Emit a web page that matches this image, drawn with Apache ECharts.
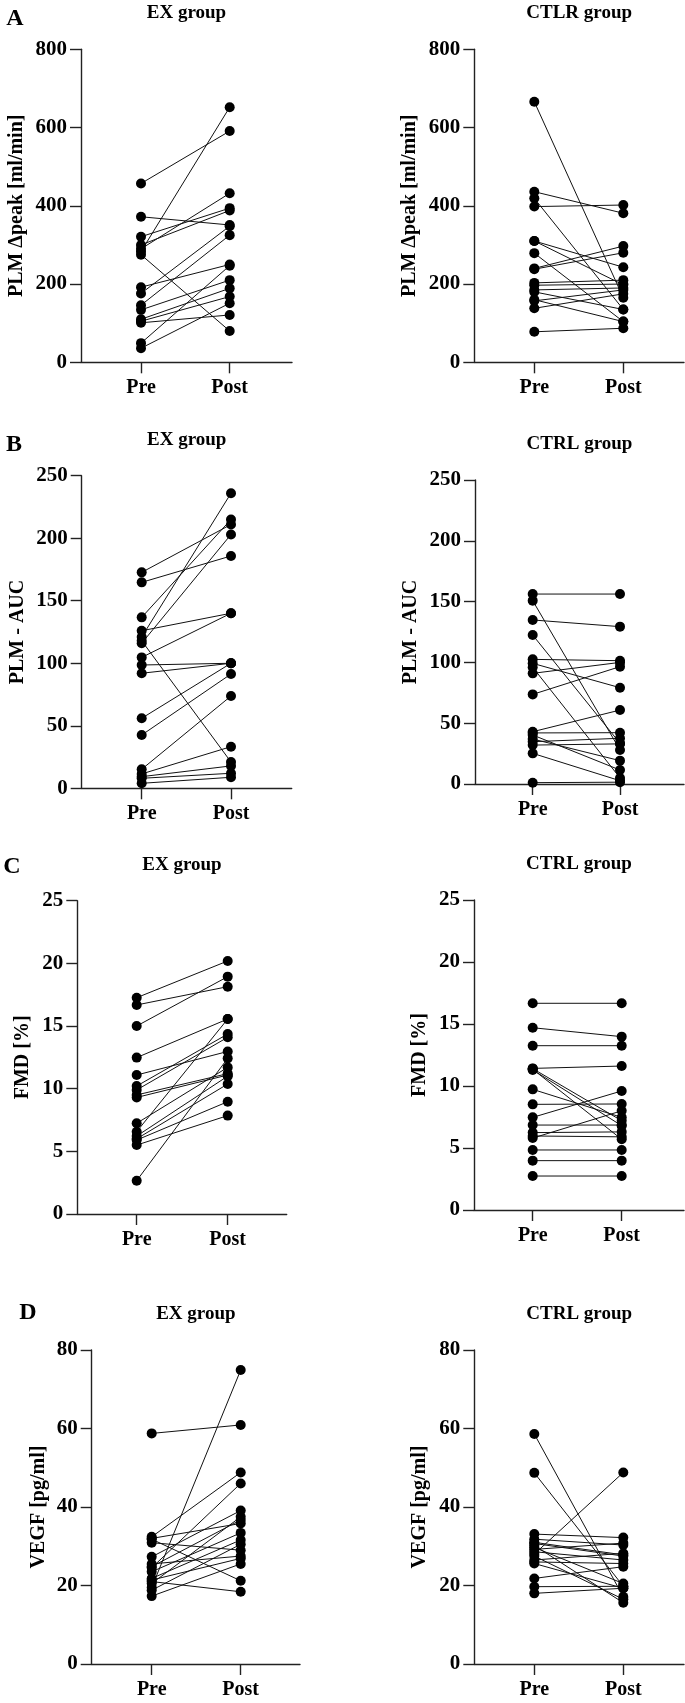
<!DOCTYPE html>
<html><head><meta charset="utf-8">
<script src="https://cdn.jsdelivr.net/npm/echarts@6/dist/echarts.min.js"></script>
<style>html,body{margin:0;padding:0;background:#fff}#c{width:685px;height:1703px}</style>
</head><body><div id="c"></div>
<script>
// ---- data ----
const timepoints = ['Pre', 'Post'];

const peakExPre   = [457, 372, 321, 300, 290, 283, 275, 192, 176, 146, 134, 110, 101, 105, 49, 36];
const peakExPost  = [591, 351, 394, 388, 432, 652, 80, 250, 348, 325, 210, 189, 121, 168, 247, 151];
const peakCtrlPre  = [666, 436, 419, 398, 310, 310, 279, 240, 238, 203, 197, 185, 180, 157, 138, 160, 78];
const peakCtrlPost = [165, 381, 135, 402, 243, 198, 104, 297, 280, 210, 200, 190, 135, 185, 175, 104, 87];

const aucExPre   = [172.7, 164.7, 136.7, 126, 121, 118, 116, 104.7, 98.6, 92, 56, 42.6, 15.2, 11.5, 9.3, 8, 4];
const aucExPost  = [211, 185.8, 215, 140, 236, 21, 203, 140, 100, 100, 100, 91.4, 73.8, 33.3, 17.9, 12, 8.8];
const aucCtrlPre  = [156.2, 150.8, 134.9, 122.5, 102.5, 99.2, 96, 91, 73.7, 43, 42, 40.3, 37, 34.8, 32, 25.2, 1.1];
const aucCtrlPost = [156.2, 28, 129.4, 33.4, 101.4, 79.2, 5, 100, 96.5, 60.8, 42.2, 11.5, 19.2, 37.6, 33, 2.7, 1.5];

const fmdExPre   = [17.26, 16.68, 15.0, 12.48, 11.09, 10.21, 9.9, 9.5, 9.3, 7.24, 6.57, 6.22, 6.0, 5.9, 5.5, 2.66];
const fmdExPost  = [20.19, 18.14, 18.94, 15.56, 12.97, 14.36, 14.1, 11.2, 11.09, 11.7, 15.56, 11.0, 10.37, 8.96, 7.85, 12.42];
const fmdCtrlPre  = [16.67, 14.7, 13.25, 11.42, 11.4, 11.35, 11.3, 9.73, 8.52, 7.47, 6.85, 6.24, 5.97, 5.8, 4.84, 3.98, 2.74];
const fmdCtrlPost = [16.67, 13.98, 13.25, 11.61, 7.2, 5.7, 6.8, 7.47, 8.55, 9.6, 6.85, 6.3, 5.9, 8.0, 4.84, 3.98, 2.74];

const vegfExPre   = [58.75, 19.5, 32.4, 24.5, 32, 31.8, 30.9, 27.3, 24.8, 23.5, 21.8, 20.5, 21, 21.4, 17.3, 18.8, 25.5];
const vegfExPost  = [60.9, 74.9, 48.8, 46.0, 35.8, 21.2, 29.0, 39.1, 36.7, 33.4, 31.6, 37.5, 18.4, 26.9, 25.5, 30.5, 27.5];
const vegfCtrlPre  = [58.6, 48.7, 28.0, 33.1, 31.8, 30.7, 29.7, 28.6, 27.5, 26.5, 25.6, 21.8, 19.7, 18.0, 30.2, 29.2, 26.0, 31];
const vegfCtrlPost = [17.1, 19.8, 48.8, 32.2, 30.3, 27.5, 20.5, 26.5, 16.5, 28.2, 19.3, 24.8, 19.8, 19.3, 15.6, 30.8, 25.6, 27.8];

const yNames = ['PLM \u0394peak [ml/min]', 'PLM - AUC', 'FMD [%]', 'VEGF [pg/ml]'];
const yMaxes = [800, 250, 25, 80];
const yIntervals = [200, 50, 5, 20];
const panelLetters = ['A', 'B', 'C', 'D'];
const leftTitles = ['EX group', 'EX group', 'EX group', 'EX group'];
const rightTitles = ['CTLR group', 'CTRL group', 'CTRL group', 'CTRL group'];

// ---- layout (pixels): axisX, preX, postX, endX, top, bottom ----
const FONT = '"Liberation Serif", "Times New Roman", serif';
const panels = [
  {row:0, pre:peakExPre, post:peakExPost, title:leftTitles[0], box:[81,141,229.7,292,49.3,362.3], gap:54},
  {row:0, pre:peakCtrlPre, post:peakCtrlPost, title:rightTitles[0], box:[474.3,534.3,623.3,684,49.3,362.3], gap:54},
  {row:1, pre:aucExPre, post:aucExPost, title:leftTitles[1], box:[81.7,141.7,231,291.7,475.7,788.3], gap:54},
  {row:1, pre:aucCtrlPre, post:aucCtrlPost, title:rightTitles[1], box:[475,532.7,620,684,480,784], gap:54},
  {row:2, pre:fmdExPre, post:fmdExPost, title:leftTitles[2], box:[77.3,136.7,227.7,286.7,900.7,1214], gap:44},
  {row:2, pre:fmdCtrlPre, post:fmdCtrlPost, title:rightTitles[2], box:[474,532.7,621.7,684,900,1210], gap:44},
  {row:3, pre:vegfExPre, post:vegfExPost, title:leftTitles[3], box:[91.7,151.7,240.7,300,1350,1664], gap:43},
  {row:3, pre:vegfCtrlPre, post:vegfCtrlPost, title:rightTitles[3], box:[474.3,534.3,623.3,684,1350,1664], gap:44}
];
const letterPos = [[15,19],[14,445],[12,867],[28,1313]];

const grid = [], xAxis = [], yAxis = [], series = [], graphic = [];
const axisColor = '#222';
panels.forEach((p, i) => {
  const [ax, px, qx, ex, top, bot] = p.box;
  const sp = qx - px;
  grid.push({left: ax, top: top, width: ex - ax, height: bot - top, containLabel: false});
  xAxis.push({
    type: 'value', gridIndex: i,
    min: 1 - (px - ax) / sp, max: 2 + (ex - qx) / sp,
    axisLine: {show: true, onZero: false, lineStyle: {color: axisColor, width: 1.4}},
    axisTick: {show: true, customValues: [1, 2], length: 11, lineStyle: {color: axisColor, width: 1.4}},
    axisLabel: {customValues: [1, 2], formatter: v => timepoints[Math.round(v) - 1],
      fontFamily: FONT, fontWeight: 'bold', fontSize: 20, color: '#000', margin: 16},
    splitLine: {show: false}
  });
  yAxis.push({
    type: 'value', gridIndex: i, min: 0, max: yMaxes[p.row], interval: yIntervals[p.row],
    name: yNames[p.row], nameLocation: 'middle', nameGap: p.gap,
    nameTextStyle: {fontFamily: FONT, fontWeight: 'bold', fontSize: 20, color: '#000'},
    axisLine: {show: true, onZero: false, lineStyle: {color: axisColor, width: 1.4}},
    axisTick: {show: true, length: 11, lineStyle: {color: axisColor, width: 1.4}},
    axisLabel: {fontFamily: FONT, fontWeight: 'bold', fontSize: 21, color: '#000', margin: 14},
    splitLine: {show: false}
  });
  p.pre.forEach((v, k) => {
    series.push({
      type: 'line', xAxisIndex: i, yAxisIndex: i,
      data: [[1, v], [2, p.post[k]]],
      symbol: 'circle', symbolSize: 10, showSymbol: true,
      lineStyle: {color: '#111', width: 1},
      itemStyle: {color: '#000'},
      silent: true, animation: false, z: 3
    });
  });
  graphic.push({type: 'text', x: (ax + ex) / 2, y: top - 36,
    style: {text: p.title, fill: '#000', font: 'bold 19px ' + FONT, align: 'center', verticalAlign: 'middle'}});
});
panelLetters.forEach((L, r) => {
  graphic.push({type: 'text', x: letterPos[r][0], y: letterPos[r][1],
    style: {text: L, fill: '#000', font: 'bold 24px ' + FONT, align: 'center', verticalAlign: 'middle'}});
});

const chart = echarts.init(document.getElementById('c'), null, {renderer: 'canvas'});
chart.setOption({animation: false, backgroundColor: '#fff', grid, xAxis, yAxis, series, graphic});
</script>
</body></html>
